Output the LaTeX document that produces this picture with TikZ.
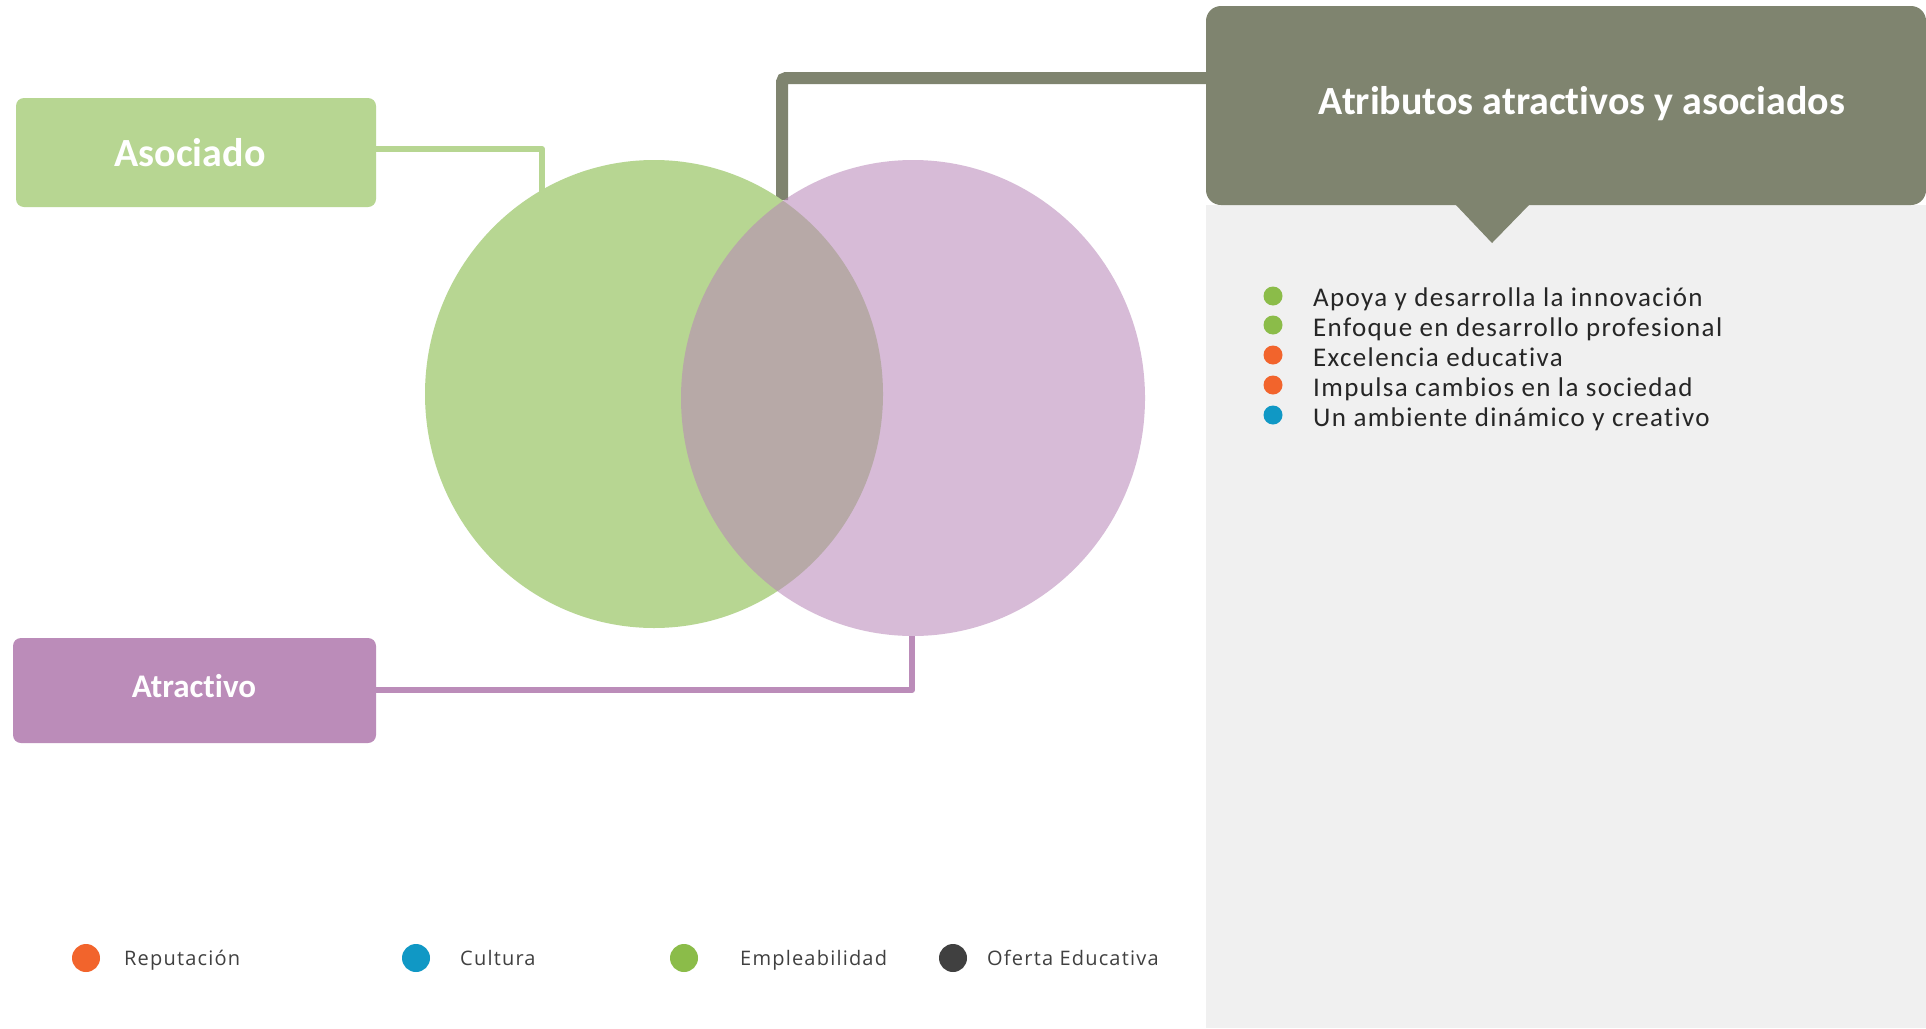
\documentclass[tikz,border=0pt]{standalone}
\usepackage{fontspec}
\setmainfont{Carlito}[Ligatures=NoCommon]
\newfontfamily\legendfont[LetterSpace=6]{Open Sans}
\newfontfamily\listfont[LetterSpace=5,Ligatures=NoCommon]{Carlito}
\definecolor{boxgreen}{HTML}{B7D692}
\definecolor{boxpurple}{HTML}{BB8CB9}
\definecolor{circpurple}{HTML}{B887B8}
\definecolor{header}{HTML}{7F846F}
\definecolor{panel}{HTML}{F0F0F0}
\definecolor{dotorange}{HTML}{F2642C}
\definecolor{dotblue}{HTML}{1098C5}
\definecolor{dotgreen}{HTML}{8BBC49}
\definecolor{dotdark}{HTML}{404040}
\definecolor{listtext}{HTML}{262626}
\definecolor{legtext}{HTML}{404040}
\begin{document}
\begin{tikzpicture}[x=1pt,y=-1pt,
  labelbox/.style={rounded corners=8pt, inner sep=0pt, text=white, font=\bfseries},
  conn/.style={line width=6pt, line join=round},
  bullet/.style={circle, inner sep=0pt, minimum size=19pt},
  legdot/.style={circle, inner sep=0pt, minimum size=28pt},
  listitem/.style={anchor=mid west, inner sep=0pt, text=listtext, font=\listfont\fontsize{27pt}{32pt}\selectfont},
  legitem/.style={anchor=mid west, inner sep=0pt, text=legtext, font=\legendfont\fontsize{20pt}{24pt}\selectfont}]
\useasboundingbox (0,0) rectangle (1926,1028);
\fill[white] (0,0) rectangle (1926,1028);
% right panel
\fill[panel] (1206,205) rectangle (1926,1028);
% header connector
\coordinate (top) at (782,200);
\draw[header, line width=12pt, rounded corners=4pt] (top) |- (1210,78);
% header callout
\fill[header, rounded corners=15pt] (1206,6) rectangle (1926,205);
\fill[header] (1455,204) -- (1530,204) -- (1492,243) -- cycle;
\node[text=white, font=\bfseries\fontsize{40pt}{48pt}\selectfont] (title) at (1582,104) {Atributos atractivos y asociados};
% circles
\fill[boxgreen] (654,394) ellipse [x radius=229pt, y radius=234pt];
\fill[circpurple, fill opacity=0.56] (913,398) ellipse [x radius=232pt, y radius=238pt];
\coordinate (gtop) at (542,253);
\coordinate (pbot) at (912,636);
% Asociado
\node[labelbox, fill=boxgreen, minimum width=360pt, minimum height=109pt] (asoc) at (196,152.5) {};
\node[text=white, font=\bfseries\fontsize{40pt}{48pt}\selectfont] (asoct) at (190,153) {Asociado};
\draw[conn, boxgreen] (asoc.east |- 0,149) -| (gtop);
% Atractivo
\node[labelbox, fill=boxpurple, minimum width=363pt, minimum height=105pt] (atr) at (194.5,690.5) {};
\node[text=white, font=\bfseries\fontsize{33pt}{40pt}\selectfont] (atrt) at (194,686) {Atractivo};
\draw[conn, boxpurple] (atr.east |- 0,690) -| (pbot);
% list
\node[bullet, fill=dotgreen] (b1) at (1273,296) {};
\node[bullet, fill=dotgreen] (b2) at (1273,325) {};
\node[bullet, fill=dotorange] (b3) at (1273,355) {};
\node[bullet, fill=dotorange] (b4) at (1273,385) {};
\node[bullet, fill=dotblue] (b5) at (1273,415) {};
\node[listitem] (t1) at (1313,304) {Apoya y desarrolla la innovación};
\node[listitem] (t2) at (1313,334) {Enfoque en desarrollo profesional};
\node[listitem] (t3) at (1313,364) {Excelencia educativa};
\node[listitem] (t4) at (1313,394) {Impulsa cambios en la sociedad};
\node[listitem] (t5) at (1313,424) {Un ambiente dinámico y creativo};
% legend
\node[legdot, fill=dotorange] (l1) at (86,958) {};
\node[legdot, fill=dotblue] (l2) at (416,958) {};
\node[legdot, fill=dotgreen] (l3) at (684,958) {};
\node[legdot, fill=dotdark] (l4) at (953,958) {};
\node[legitem] (lt1) at (124,963) {Reputación};
\node[legitem] (lt2) at (460,963) {Cultura};
\node[legitem] (lt3) at (740,963) {Empleabilidad};
\node[legitem] (lt4) at (987,963) {Oferta Educativa};
\end{tikzpicture}
\end{document}
